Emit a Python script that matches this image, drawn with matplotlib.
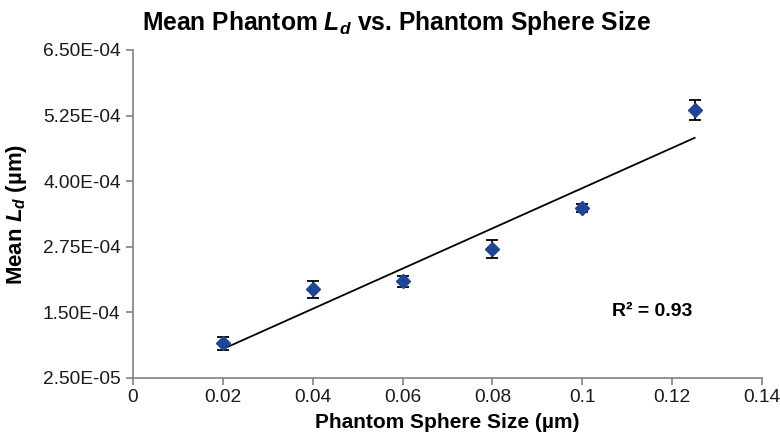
import numpy as np
import matplotlib
matplotlib.use("Agg")
import matplotlib.pyplot as plt
from matplotlib.ticker import FuncFormatter

# === Data
sphere_size = [0.02, 0.04, 0.06, 0.08, 0.10, 0.125]
mean_ld = [9.1e-5, 1.94e-4, 2.09e-4, 2.71e-4, 3.49e-4, 5.36e-4]
ld_err = [1.2e-5, 1.6e-5, 1.1e-5, 1.7e-5, 7e-6, 1.9e-5]
y_ticks = [2.5e-5, 1.5e-4, 2.75e-4, 4.0e-4, 5.25e-4, 6.5e-4]
x_ticks = [0, 0.02, 0.04, 0.06, 0.08, 0.1, 0.12, 0.14]
r2_label = "R² = 0.93"

# === Style
plt.rcParams["font.family"] = ["Liberation Sans", "DejaVu Sans"]
plt.rcParams["mathtext.fontset"] = "custom"
plt.rcParams["mathtext.it"] = "Liberation Sans:italic:bold"
plt.rcParams["mathtext.rm"] = "Liberation Sans:bold"

fig = plt.figure(figsize=(7.8, 4.45), dpi=100)
ax = fig.add_axes([133 / 780, 67 / 445, (762 - 133) / 780, (378 - 50) / 445])

# linear trendline over the data range
coef = np.polyfit(sphere_size, mean_ld, 1)
xs = np.array([min(sphere_size), max(sphere_size)])
ax.plot(xs, np.polyval(coef, xs), color="black", lw=1.3, zorder=2)

ax.errorbar(sphere_size, mean_ld, yerr=ld_err, fmt="D", color="#1f4596",
            markersize=7.5, ecolor="black", elinewidth=1.3, capsize=4,
            capthick=1.3, zorder=3)

ax.set_xlim(0, 0.14)
ax.set_ylim(2.5e-5, 6.5e-4)
ax.set_xticks(x_ticks)
ax.set_yticks(y_ticks)
ax.xaxis.set_major_formatter(FuncFormatter(lambda v, p: f"{v:g}"))
ax.yaxis.set_major_formatter(FuncFormatter(lambda v, p: f"{v:.2E}"))

for s in ["top", "right"]:
    ax.spines[s].set_visible(False)
for s in ["left", "bottom"]:
    ax.spines[s].set_color("#808080")
    ax.spines[s].set_linewidth(1.2)
ax.tick_params(axis="both", colors="#808080", labelcolor="#1a1a1a",
               labelsize=13.8, length=5, width=1.2, direction="out")
ax.tick_params(axis="y", pad=4)
ax.tick_params(axis="x", pad=3)

ax.set_xlabel("Phantom Sphere Size (µm)", fontsize=15, fontweight="bold", labelpad=5)
ax.set_ylabel("Mean $L_d$ (µm)", fontsize=16, fontweight="bold", labelpad=10)
fig.suptitle("Mean Phantom $L_d$ vs. Phantom Sphere Size", fontsize=17.7,
             fontweight="bold", x=0.508, y=0.98)

ax.text(0.1155, 1.51e-4, r2_label, ha="center", va="center", fontsize=14,
        fontweight="bold")

plt.savefig("out.png", dpi=100)
plt.close()
